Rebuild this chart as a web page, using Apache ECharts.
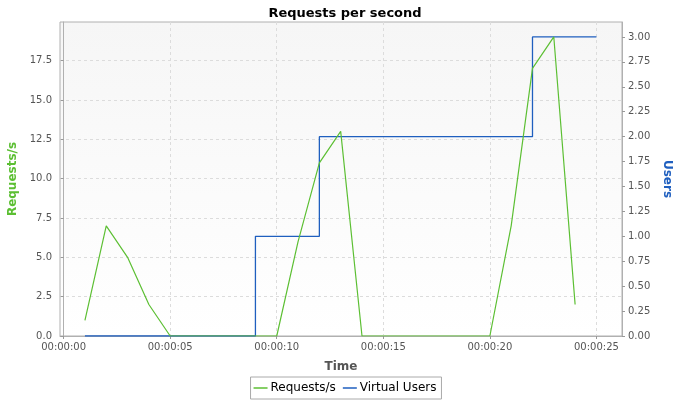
<!DOCTYPE html>
<html><head><meta charset="utf-8">
<script src="https://cdn.jsdelivr.net/npm/echarts@6/dist/echarts.min.js"></script>
<style>html,body{margin:0;padding:0;background:#fff}#c{width:690px;height:400px}</style>
</head><body><div id="c"></div>
<script>
// time in seconds
const reqTimes = [1,2,3,4,5,6,7,8,9,10,11,12,13,14,15,16,17,18,19,20,21,22,23,24];
const reqValues = [1,7,5,2,0,0,0,0,0,0,6,11,13,0,0,0,0,0,0,0,7,17,19,2];
const userTimes = [1,2,3,4,5,6,7,8,9,10,11,12,13,14,15,16,17,18,19,20,21,22,23,24,25];
const userValues = [0,0,0,0,0,0,0,0,1,1,1,2,2,2,2,2,2,2,2,2,2,3,3,3,3];
const xTicks = [0,5,10,15,20,25];
const leftTicks = [0,2.5,5,7.5,10,12.5,15,17.5];
const rightTicks = [0,0.25,0.5,0.75,1,1.25,1.5,1.75,2,2.25,2.5,2.75,3];

const FONT = 'DejaVu Sans';
const GREEN = '#5cbf33';
const BLUE = '#1f5fbf';
const pad = n => (n < 10 ? '0' : '') + n;

const chart = echarts.init(document.getElementById('c'), null, {renderer: 'canvas'});
chart.setOption({
  animation: false,
  textStyle: {fontFamily: FONT},
  title: {
    text: 'Requests per second', left: 'center', top: 2,
    textStyle: {fontFamily: FONT, fontSize: 13, fontWeight: 'bold', color: '#000'}
  },
  legend: {
    bottom: 1, left: 'center',
    data: ['Requests/s', 'Virtual Users'],
    icon: 'rect', itemWidth: 14, itemHeight: 1.5, itemGap: 7,
    borderColor: '#aaa', borderWidth: 1, padding: [5, 5, 5, 3],
    textStyle: {fontFamily: FONT, fontSize: 12, color: '#000', padding: [0, 0, 0, -2]}
  },
  grid: {
    left: 60, right: 68, top: 22, bottom: 64, show: true,
    outerBoundsMode: 'none', containLabel: false,
    borderColor: '#b0b0b0', borderWidth: 1,
    backgroundColor: {type: 'linear', x: 0, y: 0, x2: 0, y2: 1,
      colorStops: [{offset: 0, color: '#f6f6f6'}, {offset: 1, color: '#ffffff'}]}
  },
  xAxis: {
    type: 'value', min: -0.17, max: 26.2,
    name: 'Time', nameLocation: 'middle', nameGap: 25,
    nameTextStyle: {fontFamily: FONT, fontSize: 12, fontWeight: 'bold', color: '#555'},
    axisLine: {show: true, lineStyle: {color: '#b0b0b0'}},
    axisTick: {show: true, length: 3, customValues: xTicks, lineStyle: {color: '#999'}},
    axisLabel: {customValues: xTicks, fontSize: 10, color: '#555', margin: 6,
      formatter: v => '00:00:' + pad(Math.round(v))},
    splitLine: {show: true, lineStyle: {color: '#dcdcdc', type: [3, 3]}}
  },
  yAxis: [{
    type: 'value', min: 0, max: 19.95, position: 'left',
    name: 'Requests/s', nameLocation: 'middle', nameGap: 41,
    nameTextStyle: {fontFamily: FONT, fontSize: 12, fontWeight: 'bold', color: GREEN},
    axisLine: {show: true, lineStyle: {color: '#b0b0b0'}},
    axisTick: {show: true, length: 3, customValues: leftTicks, lineStyle: {color: '#999'}},
    axisLabel: {customValues: leftTicks, fontSize: 10, color: '#555', margin: 8,
      formatter: v => v.toFixed(1)},
    splitLine: {show: true, lineStyle: {color: '#dcdcdc', type: [3, 3]}}
  }, {
    type: 'value', min: 0, max: 3.15, position: 'right',
    name: 'Users', nameLocation: 'middle', nameGap: 38, nameRotate: -90,
    nameTextStyle: {fontFamily: FONT, fontSize: 12, fontWeight: 'bold', color: BLUE},
    axisLine: {show: true, lineStyle: {color: '#b0b0b0'}},
    axisTick: {show: true, length: 3, customValues: rightTicks, lineStyle: {color: '#999'}},
    axisLabel: {customValues: rightTicks, fontSize: 10, color: '#555', margin: 6,
      formatter: v => v.toFixed(2)},
    splitLine: {show: false}
  }],
  series: [{
    name: 'Requests/s', type: 'line', yAxisIndex: 0,
    data: reqTimes.map((t, i) => [t, reqValues[i]]),
    showSymbol: false, symbol: 'none', color: GREEN,
    lineStyle: {width: 1.2, color: GREEN}, z: 3
  }, {
    name: 'Virtual Users', type: 'line', yAxisIndex: 1, step: 'end',
    data: userTimes.map((t, i) => [t, userValues[i]]),
    showSymbol: false, symbol: 'none', color: BLUE,
    lineStyle: {width: 1.3, color: BLUE}, z: 2
  }]
});
</script></body></html>
